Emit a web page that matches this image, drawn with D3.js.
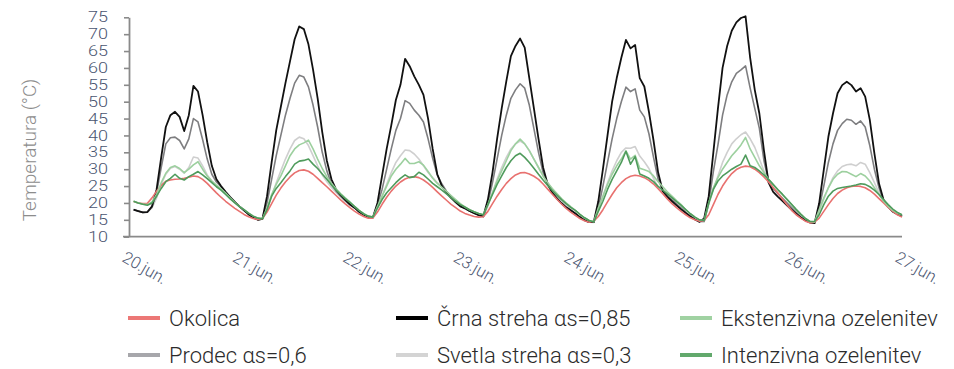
<!DOCTYPE html>
<html>
<head>
<meta charset="utf-8">
<script src="https://cdn.jsdelivr.net/npm/d3@7"></script>
<style>
  html, body { margin: 0; padding: 0; background: #fff; }
  svg { display: block; font-family: "Roboto", "Liberation Sans", sans-serif; }
</style>
</head>
<body>
<svg id="chart" width="954" height="369"></svg>
<script>
// ---- DATA (hourly, 20.jun 01:00 .. 27.jun 00:00) ----
const dayLabels = ["20.jun.", "21.jun.", "22.jun.", "23.jun.", "24.jun.", "25.jun.", "26.jun.", "27.jun."];
const yTicks = [10, 15, 20, 25, 30, 35, 40, 45, 50, 55, 60, 65, 70, 75];
const seriesNames = ["Okolica", "Črna streha αs=0,85", "Ekstenzivna ozelenitev", "Prodec αs=0,6", "Svetla streha αs=0,3", "Intenzivna ozelenitev"];

const okolica = [
  20.4, 20.0, 19.8, 19.9, 21.5, 23.5, 25.2, 26.4, 26.8, 27.0, 27.1, 27.3, 27.6, 28.0, 27.8, 27.0, 25.8, 24.4, 23.0, 21.7, 20.5, 19.4, 18.4, 17.5,
  16.6, 15.9, 15.4, 15.1, 15.4, 17.3, 19.8, 22.3, 24.4, 26.2, 27.7, 28.9, 29.6, 29.8, 29.4, 28.5, 27.3, 26.0, 24.8, 23.5, 22.2, 20.9, 19.7, 18.6,
  17.6, 16.7, 16.0, 15.5, 15.5, 17.3, 19.6, 21.7, 23.5, 25.0, 26.2, 27.1, 27.6, 27.8, 27.5, 26.8, 25.8, 24.6, 23.3, 22.0, 20.8, 19.6, 18.6, 17.6,
  16.9, 16.4, 16.0, 15.8, 15.9, 17.5, 19.8, 22.0, 24.0, 25.8, 27.2, 28.3, 28.9, 29.0, 28.6, 27.9, 27.0, 25.6, 24.1, 22.6, 21.1, 19.7, 18.4, 17.3,
  16.3, 15.4, 14.7, 14.3, 14.6, 16.0, 18.0, 20.3, 22.5, 24.5, 26.0, 27.2, 27.9, 28.2, 28.0, 27.5, 26.7, 25.6, 24.2, 22.7, 21.2, 19.8, 18.6, 17.5,
  16.5, 15.6, 15.0, 14.6, 14.8, 16.5, 19.5, 22.5, 25.0, 27.0, 28.7, 29.9, 30.6, 30.9, 30.7, 30.0, 29.0, 27.7, 26.2, 24.6, 23.0, 21.2, 19.5, 17.8,
  16.5, 15.5, 14.6, 14.1, 14.3, 15.5, 17.5, 19.5, 21.3, 22.8, 23.8, 24.5, 24.9, 25.0, 24.9, 24.5, 23.7, 22.6, 21.3, 20.0, 18.7, 17.5, 16.5, 15.8
];
const crnaStreha = [
  18.0, 17.6, 17.2, 17.3, 19.0, 24.0, 33.5, 42.5, 46.0, 47.0, 45.5, 41.3, 46.0, 54.7, 53.0, 46.0, 38.0, 31.0, 27.0, 25.0, 23.3, 21.7, 20.3, 19.0,
  17.8, 16.6, 15.7, 15.0, 15.3, 22.0, 32.0, 41.5, 48.5, 55.5, 62.0, 68.5, 72.3, 71.5, 67.0, 59.5, 51.0, 41.0, 32.5, 27.0, 24.0, 22.3, 20.9, 19.6,
  18.6, 17.4, 16.5, 15.9, 15.7, 20.0, 28.0, 36.0, 43.0, 50.5, 55.0, 62.7, 60.5, 57.5, 55.0, 52.0, 45.0, 36.0, 28.5, 25.0, 23.0, 21.5, 20.2, 19.0,
  18.4, 17.6, 17.0, 16.4, 16.0, 21.0, 29.0, 39.0, 48.0, 56.0, 63.5, 66.5, 68.7, 66.0, 57.0, 48.0, 39.0, 30.5, 25.5, 23.0, 21.3, 19.9, 18.7, 17.8,
  16.9, 15.8, 14.9, 14.3, 14.3, 20.5, 30.0, 40.0, 50.0, 57.0, 63.0, 68.3, 65.8, 66.8, 57.0, 54.5, 47.0, 38.5, 29.0, 23.5, 21.8, 20.5, 19.3, 18.1,
  17.0, 16.0, 15.1, 14.4, 15.4, 22.0, 35.0, 48.0, 60.0, 66.5, 71.0, 73.5, 74.8, 75.3, 63.0, 53.5, 46.5, 35.5, 26.0, 23.3, 21.9, 20.6, 19.3, 18.0,
  16.8, 15.7, 14.8, 14.2, 14.0, 19.9, 29.8, 39.6, 46.5, 52.5, 54.9, 55.9, 54.9, 53.0, 54.0, 51.5, 44.6, 34.7, 25.8, 20.9, 18.9, 17.4, 16.7, 16.1
];
const ekstenzivna = [
  20.5, 20.0, 19.7, 19.5, 20.3, 22.5, 26.0, 28.8, 30.5, 31.0, 30.2, 29.0, 30.0, 31.3, 32.2, 30.0, 28.0, 26.5, 25.3, 24.2, 22.9, 21.5, 20.2, 19.0,
  18.0, 17.0, 16.1, 15.5, 15.4, 18.5, 22.5, 25.5, 28.0, 31.0, 34.0, 36.0, 37.2, 37.8, 38.6, 36.0, 33.0, 30.2, 27.8, 25.8, 24.2, 22.8, 21.5, 20.3,
  19.0, 17.8, 16.8, 16.1, 15.8, 19.0, 22.0, 25.0, 28.0, 30.0, 31.5, 33.2, 31.7, 31.7, 32.2, 31.2, 29.3, 27.3, 25.8, 24.6, 23.4, 22.2, 21.0, 19.8,
  18.8, 18.0, 17.4, 16.9, 16.5, 19.5, 23.0, 26.5, 29.5, 32.5, 35.5, 37.5, 38.9, 37.5, 35.5, 33.0, 30.5, 28.0, 26.0, 24.3, 22.8, 21.3, 20.0, 18.9,
  17.8, 16.6, 15.6, 14.8, 14.4, 18.5, 22.0, 25.5, 28.5, 31.0, 33.0, 35.4, 33.0, 34.1, 30.3, 29.8, 29.3, 28.0, 26.3, 24.8, 23.3, 22.0, 20.7, 19.5,
  18.0, 16.8, 15.8, 15.0, 14.8, 20.0, 24.5, 27.5, 30.0, 32.0, 34.0, 35.5, 37.2, 39.4, 36.0, 33.5, 31.0, 29.0, 27.0, 25.3, 23.9, 22.5, 21.0, 19.5,
  18.0, 16.6, 15.4, 14.5, 14.4, 18.0, 21.5, 24.5, 27.0, 28.5, 29.3, 29.2, 28.5, 27.8, 28.7, 28.0, 26.5, 24.5, 22.5, 20.5, 19.0, 17.8, 17.0, 16.4
];
const prodec = [
  18.0, 17.6, 17.2, 17.3, 18.8, 23.0, 30.5, 37.5, 39.3, 39.5, 38.5, 36.0, 39.0, 45.0, 44.0, 38.8, 33.0, 28.5, 26.2, 24.8, 23.2, 21.6, 20.2, 19.0,
  17.8, 16.6, 15.7, 15.0, 15.3, 20.0, 27.0, 34.0, 40.0, 46.0, 51.0, 55.5, 57.8, 57.3, 54.4, 49.0, 42.5, 35.0, 29.5, 25.5, 23.5, 22.0, 20.7, 19.5,
  18.6, 17.4, 16.5, 15.9, 15.7, 19.5, 24.0, 30.0, 36.0, 41.5, 45.0, 50.3, 49.5, 47.5, 46.0, 44.0, 39.0, 33.2, 28.3, 25.6, 23.5, 21.8, 20.4, 19.2,
  18.4, 17.6, 17.0, 16.4, 16.0, 20.0, 26.0, 33.0, 40.0, 46.0, 51.0, 53.5, 55.3, 54.0, 49.0, 42.0, 35.0, 29.0, 25.5, 23.2, 21.5, 20.0, 18.8, 17.8,
  16.9, 15.8, 14.9, 14.3, 14.3, 18.5, 25.0, 32.0, 39.0, 45.0, 50.0, 54.3, 53.0, 53.8, 47.5, 45.5, 40.5, 33.5, 27.0, 23.8, 22.2, 20.9, 19.7, 18.5,
  17.2, 16.1, 15.2, 14.5, 14.5, 20.0, 29.3, 37.2, 46.0, 52.0, 55.9, 58.4, 59.4, 60.6, 54.0, 48.0, 42.1, 32.5, 26.5, 24.3, 22.8, 21.4, 20.0, 18.6,
  17.2, 15.9, 14.9, 14.2, 14.2, 18.5, 25.0, 32.0, 37.5, 41.5, 43.5, 44.8, 44.5, 43.3, 44.3, 42.5, 37.0, 30.0, 24.5, 20.5, 18.8, 17.5, 16.7, 16.0
];
const svetlaStreha = [
  18.0, 17.6, 17.2, 17.3, 18.5, 21.5, 25.5, 28.5, 30.3, 30.8, 30.0, 28.8, 30.5, 33.6, 33.3, 31.0, 28.3, 26.5, 25.0, 24.0, 22.8, 21.4, 20.1, 18.9,
  17.8, 16.6, 15.7, 15.0, 15.2, 18.0, 22.0, 26.0, 29.5, 33.0, 36.0, 38.5, 39.5, 39.0, 37.0, 34.0, 31.0, 28.3, 26.3, 24.6, 23.1, 21.8, 20.5, 19.3,
  18.6, 17.4, 16.5, 15.9, 15.6, 18.5, 22.0, 25.5, 29.0, 32.0, 34.0, 35.7, 35.5, 34.5, 33.0, 31.0, 29.0, 27.5, 26.0, 24.8, 23.4, 21.9, 20.5, 19.3,
  18.4, 17.6, 17.0, 16.4, 16.0, 19.0, 23.0, 27.0, 30.5, 33.5, 36.0, 37.5, 38.3, 37.5, 35.5, 33.0, 30.5, 28.0, 26.0, 24.0, 22.3, 20.8, 19.4, 18.3,
  16.9, 15.8, 14.9, 14.3, 14.2, 18.0, 22.0, 26.0, 29.5, 32.5, 35.0, 36.3, 36.2, 36.7, 33.9, 32.2, 30.2, 27.3, 24.5, 23.2, 22.0, 20.8, 19.6, 18.5,
  17.2, 16.1, 15.2, 14.5, 14.5, 19.5, 24.0, 28.0, 32.0, 35.0, 37.5, 39.0, 40.2, 41.0, 39.0, 36.5, 33.0, 29.5, 26.5, 24.4, 22.9, 21.5, 20.1, 18.7,
  17.3, 16.0, 14.9, 14.2, 14.2, 17.5, 21.0, 24.5, 27.5, 29.5, 30.8, 31.3, 31.5, 31.0, 32.0, 31.5, 29.0, 26.0, 23.0, 20.5, 18.8, 17.5, 16.7, 16.0
];
const intenzivna = [
  20.5, 20.0, 19.6, 19.3, 20.0, 22.0, 24.3, 26.3, 27.3, 28.5, 27.3, 26.8, 27.8, 28.5, 29.3, 28.3, 27.2, 26.0, 24.8, 23.8, 22.5, 21.2, 20.0, 18.9,
  18.0, 17.0, 16.1, 15.5, 15.3, 18.0, 22.0, 24.3, 26.0, 27.8, 29.5, 31.5, 32.4, 32.6, 33.0, 31.5, 30.2, 28.6, 27.0, 25.3, 23.8, 22.5, 21.3, 20.2,
  19.0, 17.8, 16.8, 16.1, 15.8, 18.5, 21.0, 23.0, 24.5, 26.0, 27.3, 28.3, 27.5, 27.8, 29.1, 28.3, 27.1, 25.8, 24.8, 23.8, 22.7, 21.6, 20.5, 19.5,
  18.8, 18.0, 17.4, 16.9, 16.5, 19.5, 22.5, 25.5, 28.0, 30.5, 32.5, 34.0, 34.7, 33.5, 32.0, 30.3, 28.5, 26.8, 25.2, 23.7, 22.3, 21.0, 19.8, 18.7,
  17.8, 16.6, 15.6, 14.8, 14.4, 17.5, 20.5, 24.0, 27.0, 29.5, 32.0, 35.3, 31.5, 33.7, 28.6, 28.0, 27.3, 26.3, 24.9, 23.8, 22.7, 21.6, 20.4, 19.3,
  18.0, 16.8, 15.8, 15.0, 14.8, 20.0, 24.0, 26.5, 28.0, 29.0, 30.0, 30.8, 31.5, 34.2, 31.0, 30.5, 29.5, 28.3, 27.0, 25.5, 24.0, 22.6, 21.1, 19.6,
  18.1, 16.7, 15.4, 14.5, 14.5, 16.5, 19.5, 22.0, 23.5, 24.3, 24.6, 24.8, 25.0, 25.3, 25.7, 25.5, 24.8, 23.8, 22.5, 21.0, 19.5, 18.2, 17.2, 16.5
];
const hours = d3.range(1, 169);

// ---- STYLE ----
const seriesData = [okolica, crnaStreha, ekstenzivna, prodec, svetlaStreha, intenzivna];
const lineColors = ["#e8716f", "#111111", "#9dd09f", "#7e7e80", "#cfcfcf", "#4f9b5c"];
const swatchColors = ["#ec7776", "#000000", "#a0d2a2", "#a7a7ab", "#d4d4d4", "#62a96c"];
const drawOrder = [4, 3, 1, 0, 2, 5];

const svg = d3.select("#chart");
const x = d3.scaleLinear().domain([0, 168]).range([129, 902]);
const y = d3.scaleLinear().domain([10, 75]).range([236.7, 17.3]);

// Y axis
const yAxis = svg.append("g")
  .attr("transform", "translate(129,0)")
  .call(d3.axisLeft(y).tickValues(yTicks).tickSize(5).tickSizeOuter(0).tickPadding(16));
yAxis.select(".domain").attr("stroke", "#8a8a8a").attr("stroke-width", 1.8);
yAxis.selectAll(".tick line").attr("stroke", "#8a8a8a").attr("stroke-width", 1.6);
yAxis.selectAll(".tick text")
  .attr("fill", "#4a5570").attr("font-size", 14.5).attr("font-weight", 300)
  .attr("font-family", "Roboto, sans-serif")
  .attr("textLength", 20).attr("lengthAdjust", "spacingAndGlyphs");

// X axis
const xAxis = svg.append("g")
  .attr("transform", "translate(0,236.7)")
  .call(d3.axisBottom(x).tickValues(d3.range(0, 169, 24)).tickSize(0).tickSizeOuter(0)
    .tickFormat((d, i) => dayLabels[i]));
xAxis.select(".domain").attr("stroke", "#8a8a8a").attr("stroke-width", 1.8)
  .attr("d", "M123,0H902");
xAxis.selectAll(".tick text")
  .attr("fill", "#4a5570").attr("font-size", 16.5).attr("font-weight", 300)
  .attr("font-family", "Roboto, sans-serif")
  .attr("text-anchor", "start").attr("y", 0).attr("dy", 0)
  .attr("transform", "translate(-8.5,24) rotate(30)");

// Y title
svg.append("text")
  .attr("transform", "translate(36,150) rotate(-90)")
  .attr("text-anchor", "middle")
  .attr("fill", "#8c8c8c").attr("font-size", 19).attr("font-weight", 300)
  .text("Temperatura (°C)");

// Lines
const line = d3.line().x((d, i) => x(hours[i])).y(d => y(d));
drawOrder.forEach(k => {
  svg.append("path")
    .datum(seriesData[k])
    .attr("fill", "none")
    .attr("stroke", lineColors[k])
    .attr("stroke-width", k === 1 ? 1.8 : 1.6)
    .attr("stroke-linejoin", "round")
    .attr("d", line);
});

// Legend
const legendCols = [128, 396, 680];
const legendRows = [318, 355];
seriesNames.forEach((name, k) => {
  const cx = legendCols[k % 3], cy = legendRows[Math.floor(k / 3)];
  const g = svg.append("g").attr("transform", `translate(${cx},${cy})`);
  g.append("line").attr("x1", 0).attr("x2", 32).attr("y1", 0).attr("y2", 0)
    .attr("stroke", swatchColors[k]).attr("stroke-width", 4);
  g.append("text").attr("x", 41).attr("y", 7.8)
    .attr("fill", "#2b2b2b").attr("font-size", 22).attr("font-weight", 300)
    .text(name);
});
</script>
</body>
</html>
